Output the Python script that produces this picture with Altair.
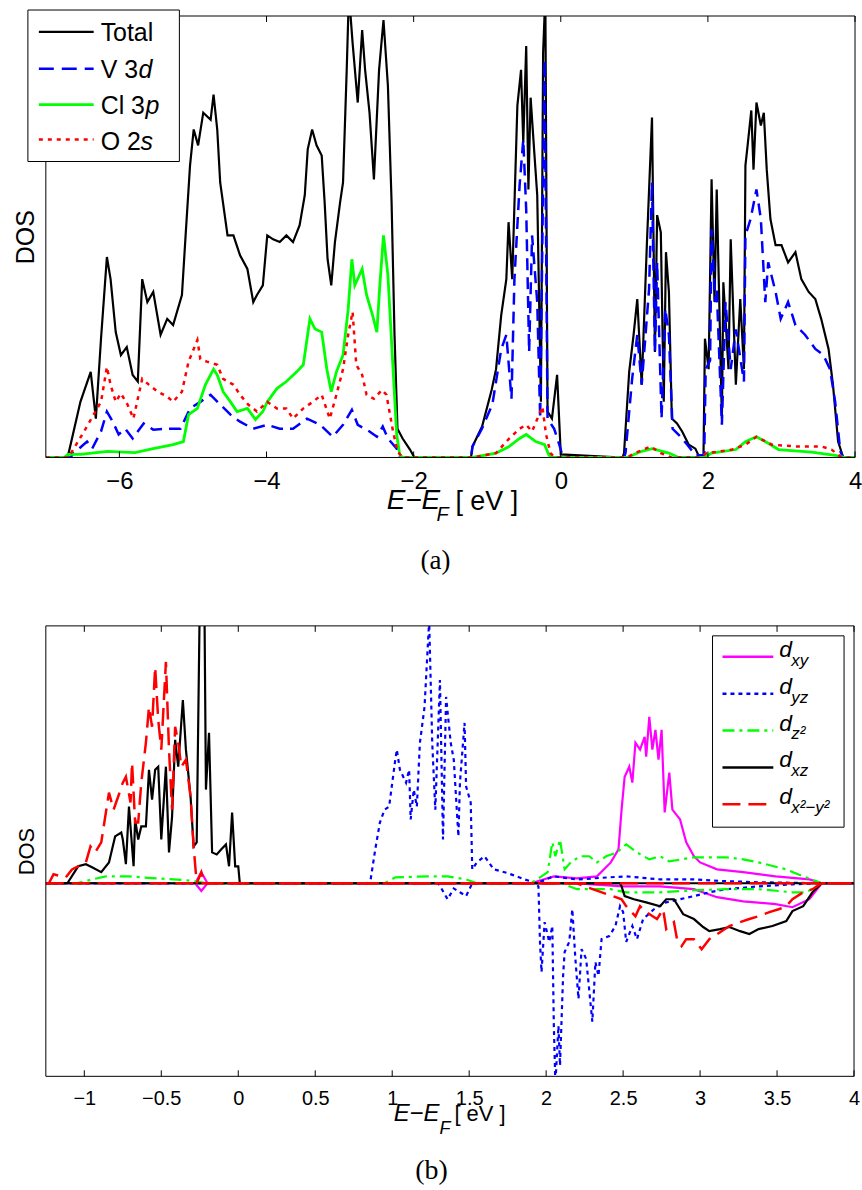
import altair as alt
import pandas as pd

# ---------------- panel (a): total and partial DOS ----------------
TOTAL = [(-7.0, 0), (-6.72, 0), (-6.69, 0.1), (-6.53, 1.26), (-6.39, 1.94), (-6.32, 0.88), (-6.25, 2.69),
         (-6.17, 4.54), (-6.12, 4.04), (-6.05, 2.84), (-5.98, 2.32), (-5.90, 2.5), (-5.82, 1.87), (-5.75, 1.72),
         (-5.69, 4.04), (-5.62, 3.52), (-5.54, 3.75), (-5.44, 2.78), (-5.35, 3.14), (-5.27, 3.0), (-5.15, 3.68),
         (-5.10, 5.03), (-5.04, 6.61), (-4.99, 7.43), (-4.93, 7.07), (-4.86, 7.81), (-4.76, 7.65), (-4.72, 8.22),
         (-4.67, 7.43), (-4.63, 6.23), (-4.53, 5.03), (-4.45, 5.03), (-4.36, 4.58), (-4.26, 4.27), (-4.18, 3.52),
         (-4.13, 3.68), (-4.05, 3.9), (-3.99, 5.03), (-3.91, 4.94), (-3.82, 4.88), (-3.73, 5.03), (-3.64, 4.88),
         (-3.55, 5.26), (-3.48, 5.94), (-3.44, 6.98), (-3.38, 7.43), (-3.32, 7.07), (-3.25, 6.84), (-3.21, 5.78),
         (-3.17, 4.49), (-3.12, 3.9), (-3.07, 4.88), (-3.0, 5.78), (-2.96, 6.23), (-2.91, 8.78), (-2.88, 10.5),
         (-2.83, 9.39), (-2.76, 8.04), (-2.70, 9.68), (-2.66, 8.78), (-2.60, 7.81), (-2.54, 6.30), (-2.47, 8.78),
         (-2.41, 9.91), (-2.35, 8.42), (-2.30, 5.78), (-2.26, 2.78), (-2.22, 0.65), (-2.15, 0.43), (-2.05, 0.18),
         (-1.99, 0), (-1.22, 0), (-1.20, 0.25), (-1.07, 0.70), (-0.94, 1.53), (-0.88, 2.0), (-0.81, 3.22),
         (-0.74, 4.04), (-0.71, 5.33), (-0.66, 4.04), (-0.59, 7.97), (-0.54, 8.78), (-0.51, 7.13), (-0.47, 9.32),
         (-0.44, 6.07), (-0.41, 8.15), (-0.36, 6.91), (-0.32, 5.94), (-0.27, 1.26), (-0.24, 9.16), (-0.21, 10.5),
         (-0.18, 1.04), (-0.12, 0.88), (-0.05, 1.87), (0.0, 0.07), (0.84, 0), (0.86, 0.1), (0.93, 1.94),
         (0.99, 2.78), (1.04, 3.59), (1.10, 1.65), (1.17, 4.81), (1.24, 7.70), (1.28, 2.39), (1.31, 5.49),
         (1.36, 5.10), (1.40, 1.26), (1.43, 4.65), (1.47, 3.75), (1.51, 0.88), (1.58, 0.77), (1.65, 0.59),
         (1.74, 0.29), (1.83, 0.2), (1.88, 0.02), (1.94, 0.02), (1.96, 2.69), (2.01, 2.0), (2.05, 6.30),
         (2.09, 3.52), (2.12, 6.07), (2.19, 0.88), (2.21, 3.97), (2.28, 2.0), (2.31, 4.94), (2.38, 1.65),
         (2.44, 3.59), (2.49, 2.0), (2.51, 6.61), (2.54, 7.07), (2.59, 7.86), (2.62, 6.52), (2.66, 8.04),
         (2.72, 7.52), (2.76, 7.81), (2.80, 6.52), (2.85, 5.40), (2.92, 4.81), (3.00, 4.81), (3.09, 4.42),
         (3.19, 4.65), (3.27, 4.04), (3.37, 3.75), (3.46, 3.59), (3.54, 3.14), (3.64, 2.46), (3.70, 1.65),
         (3.77, 0.36), (3.84, 0), (4.0, 0)]

V3D = [(-7.0, 0), (-6.66, 0), (-6.64, 0.07), (-6.44, 0.36), (-6.37, 0.2), (-6.25, 0.59), (-6.17, 1.04),
       (-6.09, 0.81), (-6.01, 0.52), (-5.92, 0.65), (-5.82, 0.43), (-5.67, 0.77), (-5.54, 0.63), (-5.35, 0.65),
       (-5.17, 0.65), (-5.04, 1.11), (-4.90, 1.26), (-4.76, 1.42), (-4.63, 1.20), (-4.49, 0.97), (-4.36, 0.81),
       (-4.18, 0.65), (-3.99, 0.74), (-3.82, 0.65), (-3.64, 0.65), (-3.45, 0.88), (-3.27, 0.74), (-3.10, 0.47),
       (-2.96, 0.74), (-2.84, 1.08), (-2.76, 0.74), (-2.60, 0.59), (-2.50, 0.47), (-2.42, 0.70), (-2.35, 0.43),
       (-2.23, 0.2), (-2.19, 0), (-1.22, 0), (-1.20, 0.25), (-1.07, 0.66), (-0.93, 1.20), (-0.81, 2.45),
       (-0.74, 2.78), (-0.67, 1.33), (-0.63, 4.04), (-0.56, 6.16), (-0.51, 7.2), (-0.47, 5.62), (-0.43, 2.39),
       (-0.39, 5.03), (-0.32, 3.52), (-0.28, 0.88), (-0.22, 9.0), (-0.18, 0.88), (-0.09, 0.65), (-0.02, 0.29),
       (0.03, 0), (0.86, 0), (0.88, 0.1), (0.97, 1.78), (1.04, 2.78), (1.10, 1.65), (1.20, 3.81), (1.24, 6.23),
       (1.28, 2.39), (1.31, 4.42), (1.37, 0.88), (1.42, 3.37), (1.47, 2.78), (1.52, 0.65), (1.60, 0.52),
       (1.72, 0.29), (1.83, 0.05), (1.95, 0.05), (1.97, 2.0), (2.03, 2.2), (2.05, 5.17), (2.10, 3.52),
       (2.12, 3.81), (2.19, 0.74), (2.24, 3.52), (2.31, 2.0), (2.38, 2.9), (2.49, 1.72), (2.51, 5.03),
       (2.58, 5.40), (2.66, 6.07), (2.72, 5.4), (2.78, 3.52), (2.82, 4.42), (2.92, 3.75), (2.99, 3.14),
       (3.09, 3.52), (3.19, 3.0), (3.32, 2.78), (3.46, 2.46), (3.57, 2.32), (3.66, 2.0), (3.73, 1.26),
       (3.80, 0.14), (3.84, 0), (4.0, 0)]

CL3P = [(-7.0, 0), (-6.75, 0), (-6.70, 0.07), (-6.53, 0.07), (-6.16, 0.14), (-5.79, 0.11), (-5.54, 0.2),
        (-5.27, 0.29), (-5.13, 0.36), (-5.06, 0.97), (-4.94, 1.11), (-4.83, 1.65), (-4.72, 2.0), (-4.67, 1.87),
        (-4.59, 1.49), (-4.49, 1.26), (-4.40, 1.04), (-4.26, 1.11), (-4.15, 0.86), (-4.05, 1.04), (-3.99, 1.26),
        (-3.86, 1.56), (-3.73, 1.72), (-3.59, 1.94), (-3.50, 2.10), (-3.41, 3.14), (-3.34, 2.91), (-3.25, 2.84),
        (-3.18, 2.0), (-3.12, 1.49), (-3.05, 1.94), (-2.96, 2.32), (-2.89, 3.36), (-2.84, 4.49), (-2.80, 3.90),
        (-2.70, 4.27), (-2.64, 3.68), (-2.56, 3.23), (-2.50, 2.84), (-2.46, 3.90), (-2.41, 5.03), (-2.35, 4.13),
        (-2.28, 2.0), (-2.23, 0.52), (-2.19, 0.07), (-2.15, 0), (-1.2, 0), (-0.88, 0.1), (-0.70, 0.25),
        (-0.56, 0.43), (-0.47, 0.52), (-0.34, 0.36), (-0.22, 0.29), (-0.16, 0.05), (-0.1, 0), (0.9, 0),
        (1.10, 0.14), (1.24, 0.2), (1.47, 0.1), (1.6, 0), (1.95, 0), (2.05, 0.1), (2.38, 0.18), (2.51, 0.36),
        (2.66, 0.47), (2.78, 0.36), (2.96, 0.18), (3.41, 0.12), (3.73, 0.05), (3.85, 0), (4.0, 0)]

O2S = [(-7.0, 0), (-6.70, 0), (-6.66, 0.09), (-6.48, 0.59), (-6.35, 0.97), (-6.25, 1.26), (-6.17, 2.05),
       (-6.12, 1.65), (-6.05, 1.26), (-5.98, 1.45), (-5.89, 1.20), (-5.81, 0.88), (-5.69, 1.78), (-5.60, 1.65),
       (-5.48, 1.49), (-5.35, 1.38), (-5.27, 1.26), (-5.15, 1.49), (-5.06, 2.17), (-4.94, 2.66), (-4.90, 2.23),
       (-4.81, 2.17), (-4.67, 2.10), (-4.59, 1.78), (-4.45, 1.65), (-4.36, 1.42), (-4.25, 1.20), (-4.13, 1.04),
       (-3.99, 1.26), (-3.86, 1.11), (-3.73, 1.11), (-3.64, 0.88), (-3.50, 1.11), (-3.37, 1.26), (-3.25, 1.42),
       (-3.14, 0.88), (-3.05, 1.42), (-2.96, 2.0), (-2.89, 2.78), (-2.83, 3.30), (-2.78, 2.10), (-2.70, 1.87),
       (-2.64, 1.42), (-2.54, 1.33), (-2.43, 1.53), (-2.37, 1.42), (-2.28, 0.59), (-2.22, 0.14), (-2.15, 0),
       (-1.2, 0), (-0.88, 0.1), (-0.70, 0.43), (-0.56, 0.65), (-0.47, 0.74), (-0.39, 0.59), (-0.25, 1.15),
       (-0.20, 0.52), (-0.14, 0.1), (-0.08, 0), (0.9, 0), (1.01, 0.1), (1.22, 0.25), (1.36, 0.1), (1.5, 0),
       (1.9, 0), (1.97, 0.09), (2.33, 0.18), (2.51, 0.29), (2.66, 0.47), (2.87, 0.29), (3.19, 0.25),
       (3.54, 0.25), (3.68, 0.18), (3.82, 0), (4.0, 0)]

A_XTICKS = [-6, -4, -2, 0, 2, 4]

# ---------------- panel (b): V 3d orbitals, spin up (+) and spin down (-) ----------------
DXY_UP = [(-1.25, 0), (-0.28, 0), (-0.24, 0.43), (-0.20, 0), (1.9, 0), (2.05, 0.27), (2.20, 0.19), (2.33, 0.27),
          (2.42, 0.81), (2.47, 1.32), (2.49, 2.86), (2.51, 4.14), (2.54, 4.53), (2.56, 3.91), (2.58, 5.46),
          (2.61, 5.19), (2.64, 5.69), (2.65, 4.92), (2.67, 6.47), (2.69, 5.19), (2.71, 5.96), (2.73, 4.80),
          (2.75, 5.96), (2.77, 2.75), (2.80, 4.30), (2.82, 2.86), (2.87, 2.48), (2.91, 1.59), (2.96, 1.05),
          (3.00, 0.81), (3.11, 0.54), (3.28, 0.43), (3.49, 0.27), (3.71, 0.15), (3.79, 0), (4.0, 0)]
DXY_DN = [(-1.25, 0), (-0.28, 0), (-0.24, -0.3), (-0.20, 0), (2.2, 0), (2.30, -0.04), (2.50, -0.12),
          (2.74, -0.12), (2.96, -0.23), (3.11, -0.54), (3.28, -0.70), (3.49, -0.81), (3.60, -0.93),
          (3.71, -0.62), (3.79, 0), (4.0, 0)]

DYZ_UP = [(-1.25, 0), (0.84, 0), (0.86, 0.15), (0.89, 1.32), (0.92, 2.36), (0.95, 2.86), (0.98, 2.98),
          (1.02, 4.80), (1.03, 5.19), (1.05, 4.41), (1.09, 3.91), (1.11, 4.41), (1.12, 2.48), (1.14, 3.64),
          (1.16, 2.98), (1.18, 5.46), (1.21, 6.85), (1.24, 10.2), (1.26, 5.46), (1.28, 2.86), (1.31, 7.90),
          (1.33, 1.70), (1.35, 7.24), (1.38, 5.46), (1.40, 4.80), (1.43, 1.82), (1.44, 3.91), (1.47, 6.23),
          (1.48, 3.76), (1.51, 3.14), (1.52, 0.54), (1.55, 0.81), (1.60, 1.05), (1.66, 0.54), (1.73, 0.43),
          (1.81, 0.27), (1.86, 0.15), (1.94, 0), (2.05, 0.27), (2.20, 0.15), (2.41, 0.23), (2.52, 0.27),
          (2.74, 0.15), (2.96, 0.15), (3.17, 0.08), (3.38, 0.04), (3.79, 0), (4.0, 0)]
DYZ_DN = [(-1.25, 0), (1.30, 0), (1.36, -0.62), (1.40, -0.2), (1.44, -0.35), (1.48, -0.5), (1.52, 0),
          (1.93, 0), (1.95, -0.12), (1.96, -2.28), (1.97, -3.45), (1.99, -1.51), (2.02, -2.28), (2.04, -1.66),
          (2.05, -5.54), (2.06, -7.8), (2.08, -5.54), (2.09, -7.08), (2.11, -3.60), (2.12, -2.67), (2.15, -2.28),
          (2.17, -1.01), (2.19, -2.94), (2.21, -4.49), (2.23, -2.56), (2.26, -2.94), (2.30, -5.38), (2.32, -3.06),
          (2.34, -3.60), (2.36, -2.17), (2.41, -2.05), (2.45, -1.66), (2.48, -0.89), (2.50, -1.12), (2.52, -2.28),
          (2.56, -1.66), (2.59, -2.17), (2.63, -1.39), (2.70, -1.01), (2.78, -0.74), (2.87, -0.62), (2.96, -0.50),
          (3.06, -0.35), (3.17, -0.23), (3.38, -0.12), (3.60, -0.04), (3.79, 0), (4.0, 0)]

DZ2_UP = [(-1.25, 0), (-1.05, 0), (-0.95, 0.15), (-0.86, 0.27), (-0.71, 0.27), (-0.56, 0.2), (-0.34, 0.12),
          (-0.2, 0), (0.95, 0), (1.02, 0.23), (1.23, 0.27), (1.36, 0.27), (1.48, 0.15), (1.55, 0), (1.90, 0),
          (1.94, 0.15), (2.01, 0.43), (2.04, 1.59), (2.06, 1.05), (2.09, 1.70), (2.12, 0.54), (2.16, 0.81),
          (2.22, 1.05), (2.28, 1.05), (2.33, 0.81), (2.39, 1.05), (2.46, 1.20), (2.52, 1.51), (2.59, 1.20),
          (2.67, 0.93), (2.74, 1.05), (2.80, 0.85), (2.96, 1.01), (3.06, 1.01), (3.17, 1.01), (3.28, 0.93),
          (3.38, 0.81), (3.56, 0.54), (3.67, 0.27), (3.79, 0), (4.0, 0)]
DZ2_DN = [(-1.25, 0), (2.1, 0), (2.20, -0.23), (2.42, -0.23), (2.52, -0.35), (2.74, -0.35), (2.96, -0.27),
          (3.17, -0.23), (3.38, -0.23), (3.60, -0.35), (3.69, -0.35), (3.79, 0), (4.0, 0)]

DXZ_UP = [(-1.25, 0), (-1.11, 0), (-1.04, 0.66), (-0.99, 0.74), (-0.95, 0.62), (-0.89, 0.43), (-0.84, 0.81),
          (-0.80, 1.82), (-0.76, 1.97), (-0.75, 1.70), (-0.73, 0.74), (-0.71, 2.98), (-0.69, 1.43), (-0.68, 0.66),
          (-0.67, 2.48), (-0.65, 1.70), (-0.63, 2.21), (-0.60, 2.21), (-0.58, 4.41), (-0.56, 3.25), (-0.54, 4.41),
          (-0.52, 4.53), (-0.50, 1.70), (-0.47, 4.53), (-0.45, 1.20), (-0.43, 2.59), (-0.41, 5.57), (-0.39, 4.53),
          (-0.36, 7.12), (-0.34, 5.19), (-0.31, 3.37), (-0.29, 1.43), (-0.27, 1.59), (-0.25, 11.0), (-0.22, 11.0),
          (-0.21, 3.64), (-0.19, 5.85), (-0.17, 1.20), (-0.14, 1.12), (-0.11, 1.32), (-0.08, 1.51), (-0.06, 0.66),
          (-0.04, 2.75), (-0.02, 0.66), (0.0, 0.66), (0.01, 0), (4.0, 0)]
DXZ_DN = [(-1.25, 0), (2.48, 0), (2.49, -0.12), (2.51, -0.50), (2.57, -0.62), (2.65, -0.74), (2.74, -0.89),
          (2.78, -0.62), (2.83, -0.62), (2.89, -1.20), (2.96, -1.39), (3.02, -1.70), (3.06, -1.86), (3.13, -1.78),
          (3.19, -1.70), (3.26, -1.86), (3.32, -1.97), (3.38, -1.78), (3.47, -1.66), (3.56, -1.47), (3.60, -1.08),
          (3.67, -0.89), (3.73, -0.35), (3.79, 0), (4.0, 0)]

DX2Y2_UP = [(-1.25, 0), (-1.23, 0), (-1.20, 0.35), (-1.12, 0.23), (-1.08, 0.54), (-0.99, 0.81), (-0.96, 1.43),
            (-0.93, 1.20), (-0.89, 1.59), (-0.84, 3.52), (-0.81, 2.86), (-0.78, 3.37), (-0.75, 3.91), (-0.73, 4.14),
            (-0.70, 3.14), (-0.69, 4.68), (-0.67, 2.36), (-0.65, 2.36), (-0.63, 3.91), (-0.60, 5.46), (-0.58, 6.85),
            (-0.56, 6.08), (-0.54, 8.40), (-0.52, 6.35), (-0.50, 5.19), (-0.47, 8.60), (-0.45, 5.19), (-0.43, 2.86),
            (-0.41, 6.08), (-0.39, 5.46), (-0.37, 4.53), (-0.34, 4.80), (-0.31, 3.37), (-0.29, 1.43), (-0.27, 0),
            (-0.24, 0.43), (-0.22, 0), (4.0, 0)]
DX2Y2_DN = [(-1.25, 0), (2.2, 0), (2.25, -0.12), (2.49, -0.62), (2.52, -0.89), (2.58, -1.28), (2.61, -0.89),
            (2.65, -1.12), (2.72, -1.39), (2.76, -1.01), (2.78, -1.78), (2.83, -1.51), (2.85, -2.17), (2.88, -2.44),
            (2.91, -2.17), (2.96, -2.17), (3.01, -2.56), (3.06, -2.17), (3.13, -1.90), (3.19, -1.66), (3.26, -1.51),
            (3.32, -1.39), (3.38, -1.28), (3.45, -1.12), (3.51, -1.01), (3.56, -0.89), (3.60, -0.62), (3.67, -0.35),
            (3.73, -0.23), (3.79, 0), (4.0, 0)]

B_XTICKS = [-1, -0.5, 0, 0.5, 1, 1.5, 2, 2.5, 3, 3.5, 4]

# ---------------- helpers ----------------
FONT = "Liberation Sans"
SERIF = "Liberation Serif"
MINUS = "\u2212"
ONE = alt.Data(values=[{"k": 1}])

A_W, A_H = 812, 443
B_W, B_H = 811, 452


def frame(pairs):
    return pd.DataFrame({"E": [p[0] for p in pairs], "DOS": [p[1] for p in pairs]})


def series(pairs, xs, ys, xax, yax, color, width, dash=None):
    kw = dict(color=color, strokeWidth=width, clip=True)
    if dash:
        kw["strokeDash"] = dash
    return alt.Chart(frame(pairs)).mark_line(**kw).encode(
        x=alt.X("E:Q", scale=xs, axis=xax),
        y=alt.Y("DOS:Q", scale=ys, axis=yax),
    )


def txt(t, x, y, size, style="normal", align="left", font=FONT):
    return alt.Chart(ONE).mark_text(
        text=t, fontSize=size, fontStyle=style, align=align, baseline="alphabetic",
        font=font, color="black",
    ).encode(x=alt.value(x), y=alt.value(y))


def hrule(x1, x2, y, color="black", width=1.0, dash=None):
    kw = dict(color=color, strokeWidth=width)
    if dash:
        kw["strokeDash"] = dash
    return alt.Chart(ONE).mark_rule(**kw).encode(x=alt.value(x1), x2=alt.value(x2), y=alt.value(y))


def vrule(x, y1, y2):
    return alt.Chart(ONE).mark_rule(color="black", strokeWidth=1).encode(
        x=alt.value(x), y=alt.value(y1), y2=alt.value(y2))


def box(x1, x2, y1, y2):
    return alt.Chart(ONE).mark_rect(fill="white", stroke="black", strokeWidth=1).encode(
        x=alt.value(x1), x2=alt.value(x2), y=alt.value(y1), y2=alt.value(y2))


def borders(W, H):
    return [hrule(0, W, 0), hrule(0, W, H), vrule(0, 0, H), vrule(W, 0, H)]


def tickmarks(vals, xs, xax, H):
    d = pd.DataFrame({"E": vals})
    bot = alt.Chart(d).mark_rule(color="black", strokeWidth=1).encode(
        x=alt.X("E:Q", scale=xs, axis=xax), y=alt.value(H - 6), y2=alt.value(H))
    top = alt.Chart(d).mark_rule(color="black", strokeWidth=1).encode(
        x=alt.X("E:Q", scale=xs, axis=xax), y=alt.value(0), y2=alt.value(6))
    return [bot, top]


# ---------------- panel (a) ----------------
xa = alt.Scale(domain=[-7, 4], nice=False, zero=False)
ya = alt.Scale(domain=[0, 10], nice=False, zero=False)
ax_xa = alt.Axis(values=A_XTICKS, format="~g", title=None, domain=False, ticks=False, tickSize=0,
                 grid=False, labelFont=FONT, labelFontSize=24, labelColor="black", labelPadding=12,
                 labelFlush=False, labelOverlap=False)
ax_ya = alt.Axis(labels=False, ticks=False, tickSize=0, domain=False, grid=False, title="DOS",
                 titleFont=FONT, titleFontSize=25, titleFontWeight="normal", titleColor="black",
                 titlePadding=7)

BLUE, GREEN, RED, MAG = "#0000ff", "#00ff00", "#ff0000", "#ff00ff"

a_layers = [
    series(TOTAL, xa, ya, ax_xa, ax_ya, "black", 2.2),
    series(V3D, xa, ya, ax_xa, ax_ya, BLUE, 2.5, [12, 7]),
    series(CL3P, xa, ya, ax_xa, ax_ya, GREEN, 2.8),
    series(O2S, xa, ya, ax_xa, ax_ya, RED, 2.5, [4, 5]),
]
a_layers += borders(A_W, A_H)
a_layers += tickmarks(A_XTICKS, xa, ax_xa, A_H)
# legend (a)
a_layers += [
    box(-18, 134, -6, 146),
    hrule(-7, 48, 16, "black", 2.2),
    hrule(-7, 48, 53, BLUE, 2.5, [15, 8]),
    hrule(-7, 48, 89, GREEN, 2.8),
    hrule(-7, 48, 124, RED, 2.5, [4, 5]),
    txt("Total", 55, 25, 25),
    txt("V 3", 55, 62, 25), txt("d", 93, 62, 25, "italic"),
    txt("Cl 3", 55, 98, 25), txt("p", 100, 98, 25, "italic"),
    txt("O 2", 55, 134, 25), txt("s", 95, 134, 25, "italic"),
]
# x-axis title and caption (a)
a_layers += [
    txt("E" + MINUS + "E", 342, 495, 28, "italic"),
    txt("F", 392, 507, 20, "italic"),
    txt("[ eV ]", 411, 496, 27),
    txt("(a)", 391, 555, 27, "normal", "center", SERIF),
]
panel_a = alt.layer(*a_layers).properties(width=A_W, height=A_H)

# ---------------- panel (b) ----------------
xb = alt.Scale(domain=[-1.25, 4], nice=False, zero=False)
yb = alt.Scale(domain=[-7.5, 10], nice=False, zero=False)
ax_xb = alt.Axis(values=B_XTICKS, format="~g", title=None, domain=False, ticks=False, tickSize=0,
                 grid=False, labelFont=FONT, labelFontSize=20, labelColor="black", labelPadding=12,
                 labelFlush=False, labelOverlap=False)
ax_yb = alt.Axis(labels=False, ticks=False, tickSize=0, domain=False, grid=False, title="DOS",
                 titleFont=FONT, titleFontSize=22, titleFontWeight="normal", titleColor="black",
                 titlePadding=7)

DOT, DASHDOT, DASH = [4, 4], [12, 5, 3, 5], [18, 8]
b_layers = [
    series(DXY_UP, xb, yb, ax_xb, ax_yb, MAG, 2.2),
    series(DXY_DN, xb, yb, ax_xb, ax_yb, MAG, 2.2),
    series(DYZ_UP, xb, yb, ax_xb, ax_yb, BLUE, 2.2, DOT),
    series(DYZ_DN, xb, yb, ax_xb, ax_yb, BLUE, 2.2, DOT),
    series(DZ2_UP, xb, yb, ax_xb, ax_yb, GREEN, 2.2, DASHDOT),
    series(DZ2_DN, xb, yb, ax_xb, ax_yb, GREEN, 2.2, DASHDOT),
    series(DXZ_UP, xb, yb, ax_xb, ax_yb, "black", 2.2),
    series(DXZ_DN, xb, yb, ax_xb, ax_yb, "black", 2.2),
    series(DX2Y2_UP, xb, yb, ax_xb, ax_yb, RED, 2.5, DASH),
    series(DX2Y2_DN, xb, yb, ax_xb, ax_yb, RED, 2.5, DASH),
]
b_layers += borders(B_W, B_H)
b_layers += tickmarks(B_XTICKS, xb, ax_xb, B_H)
# legend (b)
LEG_Y = [31, 68, 105, 142, 179]
b_layers += [
    box(669, 801, 10, 202),
    hrule(679, 730, LEG_Y[0], MAG, 2.5),
    hrule(679, 730, LEG_Y[1], BLUE, 2.5, DOT),
    hrule(679, 730, LEG_Y[2], GREEN, 2.5, DASHDOT),
    hrule(679, 730, LEG_Y[3], "black", 2.5),
    hrule(679, 730, LEG_Y[4], RED, 2.5, DASH),
]
SUBS = ["xy", "yz", "z\u00b2", "xz", "x\u00b2" + MINUS + "y\u00b2"]
for yy, sub in zip(LEG_Y, SUBS):
    b_layers += [txt("d", 736, yy, 23, "italic"), txt(sub, 748, yy + 9, 17, "italic")]
# x-axis title and caption (b)
b_layers += [
    txt("E" + MINUS + "E", 349, 497, 24, "italic"),
    txt("F", 395, 510, 18, "italic"),
    txt("[ eV ]", 410, 497, 22),
    txt("(b)", 387, 555, 28, "normal", "center", SERIF),
]
panel_b = alt.layer(*b_layers).properties(width=B_W, height=B_H)

chart = (
    alt.vconcat(panel_a, panel_b, spacing=169, bounds="flush")
    .properties(padding={"left": 14, "top": 7, "right": 0, "bottom": 0})
    .configure_view(stroke=None)
)

chart.save("out.html", embed_options={"renderer": "svg", "actions": False})
